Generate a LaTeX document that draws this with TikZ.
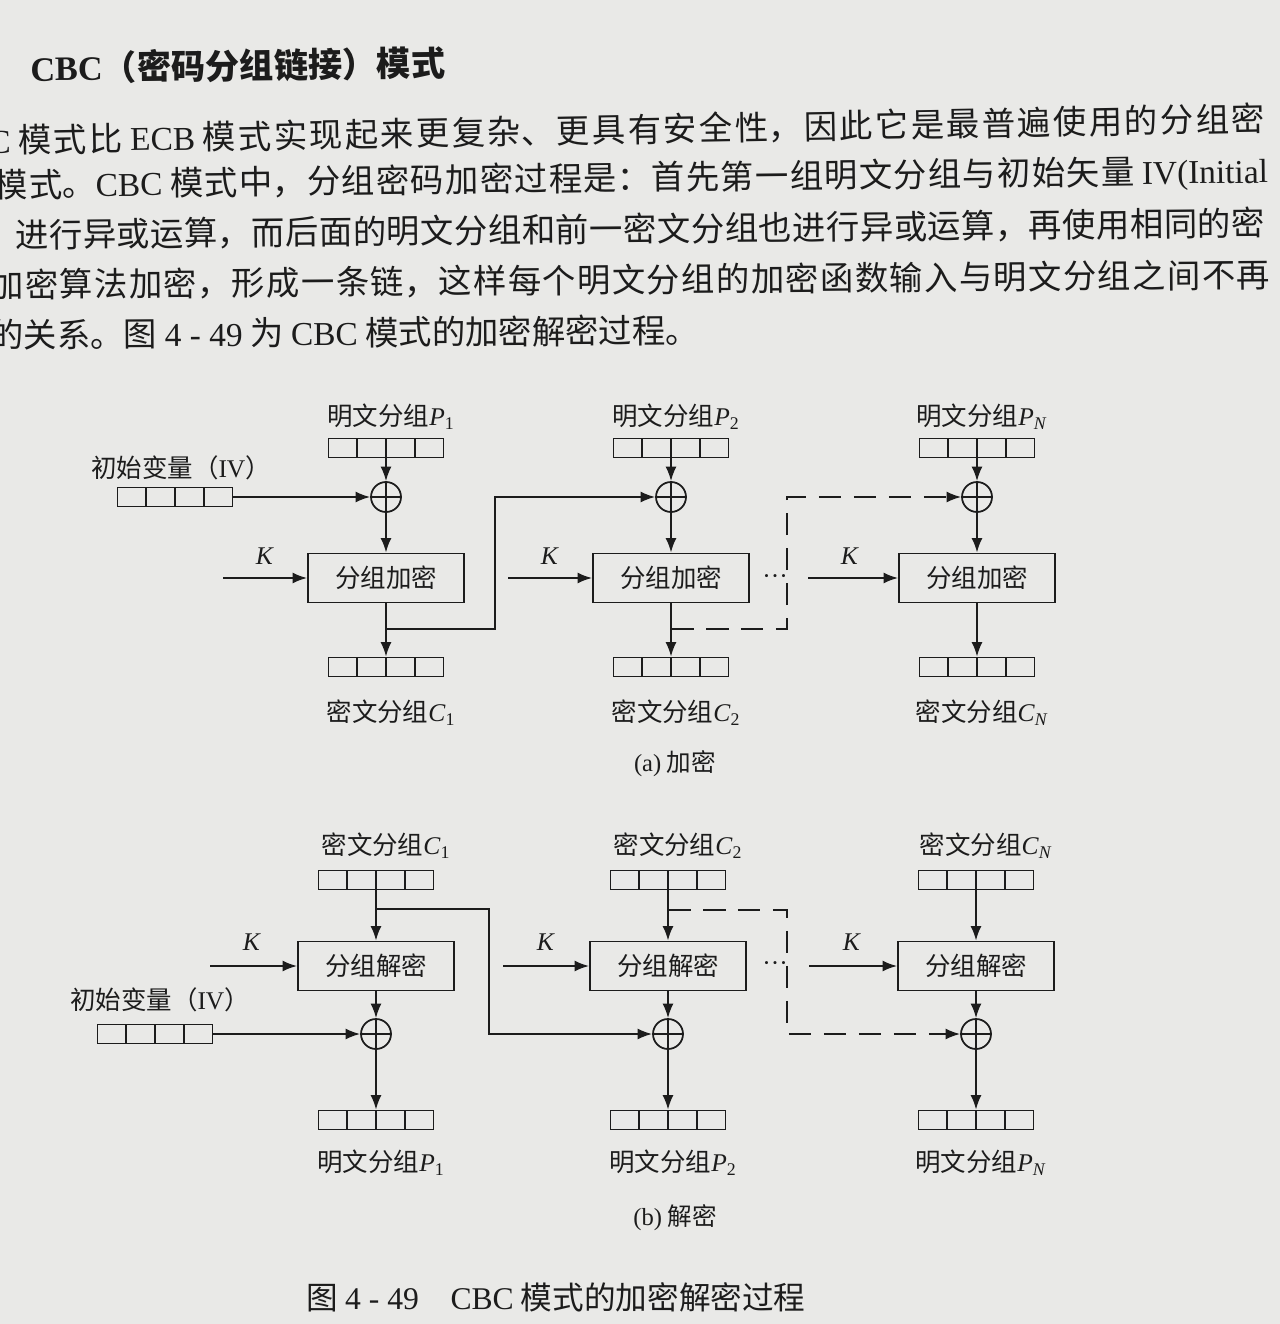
\documentclass[tikz,border=0pt]{standalone}
\usepackage[no-math]{fontspec}
\setmainfont{Noto Sans CJK SC}
\newfontfamily\lat{Liberation Serif}
\usetikzlibrary{arrows.meta,positioning,calc}
\XeTeXlinebreaklocale "zh"
\XeTeXlinebreakskip=0pt plus 1fil
\definecolor{paper}{RGB}{233,233,231}
\definecolor{ink}{RGB}{28,28,28}
\newcommand{\blk}[2]{{\lat\textit{#1}\textsubscript{#2}}}
\newcommand{\pline}[2]{\parbox{#1}{\parfillskip=0pt\relax #2}}
\tikzset{
  reg/.style={draw=ink, line width=1pt, minimum width=2.3cm, minimum height=0.38cm, inner sep=0pt,
    path picture={\foreach \k in {1,2,3}
      \draw[ink, line width=1pt] ($(path picture bounding box.south west)!\k/4!(path picture bounding box.south east)$)
        -- ($(path picture bounding box.north west)!\k/4!(path picture bounding box.north east)$);}},
  xor/.style={circle, draw=ink, line width=1pt, minimum size=0.6cm, inner sep=0pt,
    path picture={\draw[ink, line width=1pt] (path picture bounding box.north) -- (path picture bounding box.south)
      (path picture bounding box.west) -- (path picture bounding box.east);}},
  cipher/.style={draw=ink, line width=1.1pt, minimum width=3.12cm, minimum height=0.98cm, inner sep=0pt, text=ink, font=\fontsize{14.5}{16}\selectfont},
  lbl/.style={text=ink, inner sep=0pt, font=\fontsize{14.5}{16}\selectfont},
  para/.style={text=ink, inner sep=0pt, anchor=west, font=\fontsize{19}{22}\selectfont},
  link/.style={draw=ink, line width=1pt},
  arrow/.style={draw=ink, -{Latex[length=2.9mm,width=2.2mm]}, line width=1pt},
  dasharrow/.style={arrow, dash pattern=on 4.5mm off 2.5mm}
}
\begin{document}
\begin{tikzpicture}[x=0.02cm, y=-0.02cm]
\fill[paper] (0,0) rectangle (1280,1324);
\useasboundingbox (0,0) rectangle (1280,1324);

% text above the figure
\node[para, font=\fontsize{19.5}{22}\selectfont\bfseries, rotate=0.7] (title) at (30,68) {{\lat CBC}（密码分组链接）模式};
\node[para, rotate=1.0] (l2) at (-12,141) {\pline{25.54cm}{{\lat C} 模式比 {\lat ECB} 模式实现起来更复杂、更具有安全性，因此它是最普遍使用的分组密}};
\node[para, rotate=0.67] (l3) at (-6,187) {\pline{25.48cm}{模式。{\lat CBC} 模式中，分组密码加密过程是：首先第一组明文分组与初始矢量 {\lat IV(Initial}}};
\node[para, rotate=0.54] (l4) at (15,235) {\pline{25.0cm}{进行异或运算，而后面的明文分组和前一密文分组也进行异或运算，再使用相同的密}};
\node[para, rotate=0.45] (l5) at (-10,285) {\pline{25.6cm}{加密算法加密，形成一条链，这样每个明文分组的加密函数输入与明文分组之间不再}};
\node[para, rotate=0.4] (l6) at (-10,335) {的关系。图 {\lat 4 - 49} 为 {\lat CBC} 模式的加密解密过程。};

% (a) encryption
\node[lbl] (liv) at (181,468) {初始变量（{\lat IV}）};
\node[reg] (iv) at (175,497) {};

\node[lbl] (lp1) at (391,417) {明文分组\blk{P}{1}};
\node[reg] (p1) at (386,448) {};
\node[xor] (x1) at (386,497) {};
\node[cipher] (e1) at (386,578) {分组加密};
\node[reg] (c1) at (386,667) {};
\node[lbl] (lc1) at (391,713) {密文分组\blk{C}{1}};

\node[lbl] (lp2) at (676,417) {明文分组\blk{P}{2}};
\node[reg] (p2) at (671,448) {};
\node[xor] (x2) at (671,497) {};
\node[cipher] (e2) at (671,578) {分组加密};
\node[reg] (c2) at (671,667) {};
\node[lbl] (lc2) at (676,713) {密文分组\blk{C}{2}};

\node[lbl] (lpn) at (982,417) {明文分组\blk{P}{\textit{N}}};
\node[reg] (pn) at (977,448) {};
\node[xor] (xn) at (977,497) {};
\node[cipher] (en) at (977,578) {分组加密};
\node[reg] (cn) at (977,667) {};
\node[lbl] (lcn) at (982,713) {密文分组\blk{C}{\textit{N}}};

\coordinate (k1) at (223,578);
\coordinate (k2) at (508,578);
\coordinate (kn) at (808,578);
\node[lbl] (lk1) at (265,556) {{\lat\textit{K}}};
\node[lbl] (lk2) at (550,556) {{\lat\textit{K}}};
\node[lbl] (lkn) at (850,556) {{\lat\textit{K}}};
\node[lbl] (dots1) at (775,580) {{\lat ···}};

\draw[arrow] (iv) -- (x1);
\foreach \c in {1,2,n} {
  \draw[arrow] (p\c) -- (x\c);
  \draw[arrow] (x\c) -- (e\c);
  \draw[arrow] (e\c) -- (c\c);
  \draw[arrow] (k\c) -- (e\c);
}
\coordinate (b1) at (386,629);
\coordinate (t1) at (495,629);
\draw[arrow] (b1) -- (t1) |- (x2);
\coordinate (b2) at (671,629);
\coordinate (t2) at (787,629);
\draw[dasharrow] (b2) -- (t2) |- (xn);

\node[lbl, font=\fontsize{14}{16}\selectfont] (capa) at (675,764) {{\lat (a)} 加密};

% (b) decryption
\node[lbl] (dlc1) at (386,846) {密文分组\blk{C}{1}};
\node[reg] (dc1) at (376,880) {};
\node[cipher] (d1) at (376,966) {分组解密};
\node[xor] (dx1) at (376,1034) {};
\node[reg] (dp1) at (376,1120) {};
\node[lbl] (dlp1) at (381,1163) {明文分组\blk{P}{1}};

\node[lbl] (dlc2) at (678,846) {密文分组\blk{C}{2}};
\node[reg] (dc2) at (668,880) {};
\node[cipher] (d2) at (668,966) {分组解密};
\node[xor] (dx2) at (668,1034) {};
\node[reg] (dp2) at (668,1120) {};
\node[lbl] (dlp2) at (673,1163) {明文分组\blk{P}{2}};

\node[lbl] (dlcn) at (986,846) {密文分组\blk{C}{\textit{N}}};
\node[reg] (dcn) at (976,880) {};
\node[cipher] (dn) at (976,966) {分组解密};
\node[xor] (dxn) at (976,1034) {};
\node[reg] (dpn) at (976,1120) {};
\node[lbl] (dlpn) at (981,1163) {明文分组\blk{P}{\textit{N}}};

\node[lbl] (dliv) at (160,1000) {初始变量（{\lat IV}）};
\node[reg] (div) at (155,1034) {};

\coordinate (dk1) at (210,966);
\coordinate (dk2) at (503,966);
\coordinate (dkn) at (809,966);
\node[lbl] (dlk1) at (252,942) {{\lat\textit{K}}};
\node[lbl] (dlk2) at (546,942) {{\lat\textit{K}}};
\node[lbl] (dlkn) at (852,942) {{\lat\textit{K}}};
\node[lbl] (dots2) at (775,967) {{\lat ···}};

\draw[arrow] (div) -- (dx1);
\foreach \c in {1,2,n} {
  \draw[arrow] (dc\c) -- (d\c);
  \draw[arrow] (d\c) -- (dx\c);
  \draw[arrow] (dx\c) -- (dp\c);
  \draw[arrow] (dk\c) -- (d\c);
}
\coordinate (db1) at (376,909);
\coordinate (dt1) at (489,909);
\draw[arrow] (db1) -- (dt1) |- (dx2);
\coordinate (db2) at (668,910);
\coordinate (dt2) at (787,910);
\draw[dasharrow] (db2) -- (dt2) |- (dxn);

\node[lbl, font=\fontsize{14}{16}\selectfont] (capb) at (675,1218) {{\lat (b)} 解密};
\node[lbl, font=\fontsize{18}{20}\selectfont] (fig) at (556,1297) {图 {\lat 4 - 49}\quad{\lat CBC} 模式的加密解密过程};
\end{tikzpicture}
\end{document}
